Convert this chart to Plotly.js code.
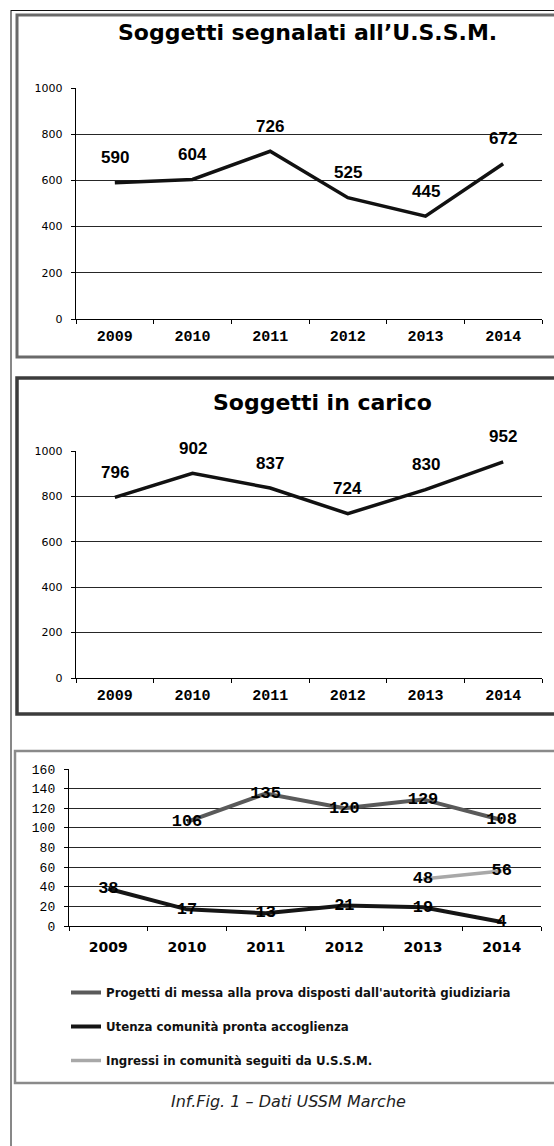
<!DOCTYPE html>
<html>
<head>
<meta charset="utf-8">
<script src="https://cdn.plot.ly/plotly-3.0.1.min.js"></script>
<style>
html,body{margin:0;padding:0;background:#fff;}
#chart{width:554px;height:1146px;}
</style>
</head>
<body>
<div id="chart"></div>
<script>
// ---- data ----
const years = ['2009','2010','2011','2012','2013','2014'];
const segnalati = [590, 604, 726, 525, 445, 672];
const inCarico = [796, 902, 837, 724, 830, 952];
const progetti = [null, 106, 135, 120, 129, 108];
const utenza = [38, 17, 13, 21, 19, 4];
const ingressi = [null, null, null, null, 48, 56];
const seriesNames = [
  "Progetti di messa alla prova disposti dall'autorità giudiziaria",
  "Utenza comunità pronta accoglienza",
  "Ingressi in comunità seguiti da U.S.S.M."
];
const titles = ["Soggetti segnalati all\u2019U.S.S.M.", "Soggetti in carico"];
const caption = "Inf.Fig. 1 \u2013 Dati USSM Marche";

// ---- helpers (pixel -> paper) ----
const W = 554, H = 1146;
const px = x => x / W;
const py = y => 1 - y / H;

const monoBold = {family: 'Liberation Mono, Courier New, monospace', size: 15, color: '#000', weight: 'bold'};
const sansTick = {family: 'DejaVu Sans, Verdana, sans-serif', size: 11, color: '#000'};
const labelMono = {family: 'Liberation Mono, Courier New, monospace', size: 17, color: '#000', weight: 'bold'};

function xAxis(anchor, left, right, font, standoff) {
  return {
    domain: [px(left), px(right)], anchor: anchor, type: 'category',
    range: [-0.5, 5.5], tickson: 'boundaries', ticks: 'outside', ticklen: 4,
    tickcolor: '#000', showline: true, linecolor: '#000', linewidth: 1.2,
    showgrid: false, zeroline: false, tickfont: font, ticklabelstandoff: standoff,
    fixedrange: true
  };
}
function yAxis(anchor, top, bottom, max, dtick, font) {
  return {
    domain: [py(bottom), py(top)], anchor: anchor, range: [0, max], dtick: dtick,
    ticks: 'outside', ticklen: 4, tickcolor: '#000', showline: true, linecolor: '#000',
    linewidth: 1.2, showgrid: true, gridcolor: '#262626', gridwidth: 1.2, zeroline: false,
    tickfont: font, ticklabelstandoff: 6, fixedrange: true
  };
}

const traces = [
  {x: years, y: segnalati, xaxis: 'x', yaxis: 'y', mode: 'lines', showlegend: false,
   line: {color: '#111', width: 3.5}, hoverinfo: 'skip'},
  {x: years, y: inCarico, xaxis: 'x2', yaxis: 'y2', mode: 'lines', showlegend: false,
   line: {color: '#111', width: 3.5}, hoverinfo: 'skip'},
  {x: years, y: progetti, xaxis: 'x3', yaxis: 'y3', mode: 'lines+text', name: seriesNames[0],
   legendgroup: 'a', line: {color: '#5a5a5a', width: 4}, texttemplate: '%{y}',
   textposition: 'middle center', textfont: labelMono, hoverinfo: 'skip'},
  {x: years, y: utenza, xaxis: 'x3', yaxis: 'y3', mode: 'lines+text', name: seriesNames[1],
   legendgroup: 'b', line: {color: '#151515', width: 4}, texttemplate: '%{y}',
   textposition: 'middle center', textfont: labelMono, hoverinfo: 'skip'},
  {x: years, y: ingressi, xaxis: 'x3', yaxis: 'y3', mode: 'lines+text', name: seriesNames[2],
   legendgroup: 'c', line: {color: '#a8a8a8', width: 3.5}, texttemplate: '%{y}',
   textposition: 'middle center', textfont: labelMono, hoverinfo: 'skip'}
];

const annotations = [];
function labelsAbove(xref, yref, vals) {
  vals.forEach((v, i) => {
    // category axis: position by category index
    annotations.push({xref: xref, yref: yref, x: i, y: v, text: String(v), showarrow: false,
      yshift: 25, font: {family: 'Liberation Sans, Arial, sans-serif', size: 17, color: '#000', weight: 'bold'}});
  });
}
labelsAbove('x', 'y', segnalati);
labelsAbove('x2', 'y2', inCarico);

const titleFont = {family: 'DejaVu Sans, sans-serif', size: 22, color: '#000', weight: 'bold'};
annotations.push({xref: 'paper', yref: 'paper', x: px(307), y: py(33), text: titles[0], showarrow: false,
  xanchor: 'center', yanchor: 'middle', font: titleFont});
annotations.push({xref: 'paper', yref: 'paper', x: px(322), y: py(402), text: titles[1], showarrow: false,
  xanchor: 'center', yanchor: 'middle', font: titleFont});
annotations.push({xref: 'paper', yref: 'paper', x: px(288), y: py(1101), text: caption, showarrow: false,
  xanchor: 'center', yanchor: 'middle', font: {family: 'DejaVu Sans, sans-serif', size: 16, color: '#222', style: 'italic'}});

const shapes = [
  // page line
  {type: 'line', xref: 'paper', yref: 'paper', x0: px(11), x1: px(11), y0: py(10), y1: py(1146), line: {color: '#111', width: 1}},
  {type: 'line', xref: 'paper', yref: 'paper', x0: px(11), x1: px(560), y0: py(10.5), y1: py(10.5), line: {color: '#111', width: 1}},
  // chart boxes
  {type: 'rect', xref: 'paper', yref: 'paper', x0: px(17), x1: px(562), y0: py(15), y1: py(357), line: {color: '#6a6a6a', width: 3}},
  {type: 'rect', xref: 'paper', yref: 'paper', x0: px(17), x1: px(562), y0: py(378), y1: py(714), line: {color: '#3c3c3c', width: 3.5}},
  {type: 'rect', xref: 'paper', yref: 'paper', x0: px(15), x1: px(562), y0: py(751), y1: py(1083), line: {color: '#8a8a8a', width: 2.5}}
];

const layout = {
  width: W, height: H, margin: {l: 0, r: 0, t: 0, b: 0},
  paper_bgcolor: '#fff', plot_bgcolor: 'rgba(0,0,0,0)',
  showlegend: true,
  xaxis: xAxis('y', 76, 542, monoBold, 3),
  yaxis: yAxis('x', 88, 319, 1000, 200, sansTick),
  xaxis2: xAxis('y2', 76, 542, monoBold, 3),
  yaxis2: yAxis('x2', 451, 678, 1000, 200, sansTick),
  xaxis3: xAxis('y3', 69, 541, {family: 'DejaVu Sans, Verdana, sans-serif', size: 14, color: '#000', weight: 'bold'}, 8),
  yaxis3: yAxis('x3', 769, 926, 160, 20, {family: 'Liberation Mono, Courier New, monospace', size: 13, color: '#000'}),
  legend: {x: px(66), y: py(978), xanchor: 'left', yanchor: 'top', bgcolor: 'rgba(0,0,0,0)',
    traceorder: 'grouped', tracegroupgap: 15, itemclick: false, itemdoubleclick: false,
    font: {family: 'DejaVu Sans, sans-serif', size: 11.8, color: '#111', weight: 'bold'}},
  annotations: annotations,
  shapes: shapes
};

Plotly.newPlot('chart', traces, layout, {displayModeBar: false, staticPlot: true});
</script>
</body>
</html>
